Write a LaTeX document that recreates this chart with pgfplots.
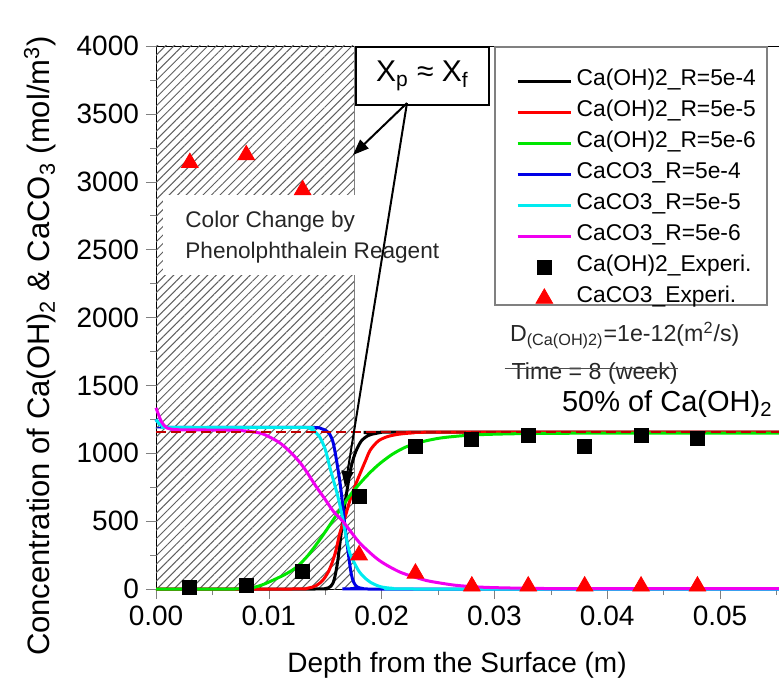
\documentclass[border=0pt]{standalone}
\usepackage{fontspec}
\setmainfont{Liberation Sans}
\usepackage{pgfplots}
\pgfplotsset{compat=1.18}
\usetikzlibrary{patterns.meta,arrows.meta}

\definecolor{dred}{RGB}{192,0,0}
\definecolor{hgray}{RGB}{95,95,95}
\definecolor{lgreen}{RGB}{0,230,0}
\definecolor{cblue}{RGB}{0,0,230}
\definecolor{ccyan}{RGB}{0,235,240}
\definecolor{cmag}{RGB}{240,0,240}
\definecolor{cred}{RGB}{255,0,0}

\pgfplotsset{
  marklegend/.style={legend image code/.code={%
    \draw[mark repeat=2,mark phase=2,##1] plot coordinates {(0pt,0pt) (13.3pt,0pt) (26.6pt,0pt)};}},
}

\begin{document}
\begin{tikzpicture}
\useasboundingbox (-78pt,-53pt) rectangle (311.5pt,294.5pt);
\begin{axis}[
    at={(0pt,0pt)}, anchor=south west,
    scale only axis, width=315.84pt, height=271.5pt,
    xmin=0, xmax=0.056, ymin=0, ymax=4000,
    clip=false,
    xtick={0,0.01,0.02,0.03,0.04,0.05},
    minor xtick={0.005,0.015,0.025,0.035,0.045,0.055},
    ytick={0,500,1000,1500,2000,2500,3000,3500,4000},
    minor ytick={250,750,1250,1750,2250,2750,3250,3750},
    tick align=outside, xtick pos=bottom, ytick pos=left,
    major tick length=5pt, minor tick length=3pt,
    scaled x ticks=false,
    xticklabel style={/pgf/number format/.cd, fixed, fixed zerofill, precision=2},
    yticklabel style={/pgf/number format/.cd, 1000 sep={}},
    /pgf/number format/assume math mode=true,
    tick label style={font=\fontsize{14}{16}\selectfont},
    xlabel={Depth from the Surface (m)},
    ylabel={Concentration of Ca(OH)\textsubscript{2} \& CaCO\textsubscript{3} (mol/m\textsuperscript{3})},
    xlabel style={at={(axis description cs:0.4765,-0.14)}, anchor=center, font=\fontsize{14}{16}\selectfont},
    ylabel style={at={(axis description cs:-0.1836,0.4475)}, anchor=center, font=\fontsize{15.5}{18}\selectfont},
    legend image code/.code={\draw[#1] (0pt,0pt) -- (26.7pt,0pt);},
    legend style={at={(axis cs:0.0319,3856)}, anchor=north west, draw=none, fill=none,
        inner sep=0pt, font=\fontsize{11.4}{13}\selectfont,
        nodes={inner ysep=0pt, text height=10pt, text depth=5.5pt}},
    legend cell align=left,
]

% hatched zone
\fill[pattern={Lines[angle=45,distance=3pt,line width=0.5pt]}, pattern color=hgray]
    (axis cs:0,0) rectangle (axis cs:0.0176,4000);
\draw[gray, line width=0.5pt] (axis cs:0.0176,0) -- (axis cs:0.0176,4000);

% Ca(OH)2
\addplot[black, line width=1.5pt, smooth] coordinates {
(0,0) (0.014,0) (0.0150,3) (0.0155,20) (0.0158,70) (0.0161,200) (0.0164,400)
(0.0167,600) (0.0170,760) (0.0173,900) (0.0177,1010) (0.0182,1090) (0.0188,1130)
(0.0196,1148) (0.021,1155) (0.056,1155)};
\addlegendentry{Ca(OH)2\_R=5e-4}

\addplot[cred, line width=1.5pt, smooth] coordinates {
(0,0) (0.012,0) (0.0134,5) (0.0142,25) (0.0148,66) (0.0153,130) (0.0157,214)
(0.0160,300) (0.0163,412) (0.0168,540) (0.0172,655) (0.0177,770) (0.0181,852)
(0.0186,950) (0.0190,1024) (0.0197,1090) (0.0205,1122) (0.0215,1140) (0.0228,1150)
(0.025,1155) (0.056,1155)};
\addlegendentry{Ca(OH)2\_R=5e-5}

\addplot[lgreen, line width=1.5pt, smooth] coordinates {
(0,0) (0.007,0) (0.0083,5) (0.0094,30) (0.0104,66) (0.0115,110) (0.0125,164)
(0.0135,250) (0.0145,361) (0.0154,470) (0.0163,582) (0.0172,690) (0.0181,780)
(0.0190,860) (0.0199,928) (0.0210,995) (0.0222,1048) (0.0236,1085) (0.0252,1112)
(0.0270,1128) (0.0287,1137) (0.032,1144) (0.036,1147) (0.040,1148) (0.056,1148)};
\addlegendentry{Ca(OH)2\_R=5e-6}

% CaCO3
\addplot[cblue, line width=1.5pt, smooth] coordinates {
(0,1250) (0.0003,1215) (0.0008,1195) (0.0015,1190) (0.010,1190) (0.0140,1190)
(0.0147,1180) (0.0151,1165) (0.0154,1140) (0.0157,1080) (0.0160,950) (0.0163,790)
(0.0165,656) (0.0167,500) (0.0169,361) (0.0171,230) (0.0173,115) (0.0175,55)
(0.0178,17) (0.0183,4) (0.019,0) (0.056,0)};
\addlegendentry{CaCO3\_R=5e-4}

\addplot[ccyan, line width=1.5pt, smooth] coordinates {
(0,1250) (0.0003,1215) (0.0008,1195) (0.0015,1190) (0.0130,1190) (0.0137,1180)
(0.0142,1150) (0.0145,1122) (0.0150,1030) (0.0154,900) (0.0158,780) (0.0162,656)
(0.0166,500) (0.0169,361) (0.0172,260) (0.0176,189) (0.0180,130) (0.0184,91)
(0.0190,50) (0.0199,17) (0.0210,5) (0.023,0) (0.056,0)};
\addlegendentry{CaCO3\_R=5e-5}

\addplot[cmag, line width=1.5pt, smooth] coordinates {
(0,1335) (0.0002,1290) (0.0005,1230) (0.001,1185) (0.002,1173) (0.005,1171)
(0.0074,1168) (0.0092,1149) (0.0101,1118) (0.0110,1075) (0.0119,1010) (0.0128,928)
(0.0135,845) (0.0142,754) (0.0150,660) (0.0157,575) (0.0166,495) (0.0172,430)
(0.0180,345) (0.0190,265) (0.0198,210) (0.0207,164) (0.0217,122) (0.0228,91)
(0.0240,62) (0.0252,44) (0.0265,28) (0.0281,17) (0.030,10) (0.034,4) (0.040,2) (0.056,2)};
\addlegendentry{CaCO3\_R=5e-6}

% experiments
\addplot[only marks, mark=square*, mark size=3.5pt, black, marklegend]
coordinates {
(0.003,15) (0.008,29) (0.013,127) (0.018,680) (0.023,1048) (0.028,1103)
(0.033,1134) (0.038,1048) (0.043,1134) (0.048,1112)};
\addlegendentry{Ca(OH)2\_Experi.}

\addplot[only marks, mark=triangle*, mark size=4.8pt, cred, marklegend]
coordinates {
(0.003,3140) (0.008,3197) (0.013,2939) (0.018,250) (0.023,115) (0.028,20)
(0.033,20) (0.038,20) (0.043,20) (0.048,20)};
\addlegendentry{CaCO3\_Experi.}

% 50% level
\addplot[dred, line width=1.2pt, dash pattern=on 5pt off 2.5pt, forget plot]
coordinates {(0,1155) (0.056,1155)};

% label box in the hatched zone
\fill[white] (axis cs:0.00062,2313) rectangle (axis cs:0.0176,2902);
\node[anchor=base west, align=left, inner sep=0pt, text=black!85,
      font=\fontsize{11.3}{15.3}\selectfont] at (axis cs:0.00257,2436)
      {Color Change by\\Phenolphthalein Reagent};

% Xp ~ Xf callout
\draw[fill=white, line width=0.8pt] (axis cs:0.01773,3565) rectangle (axis cs:0.02952,3993);
\node[font=\fontsize{15}{18}\selectfont] at (axis cs:0.02362,3779)
      {X\textsubscript{p} ≈ X\textsubscript{f}};
\draw[-{Triangle[length=8pt,width=6pt]}, line width=1pt]
      (axis cs:0.02225,3580) -- (axis cs:0.01746,3197);
\draw[-{Triangle[length=8pt,width=6pt]}, line width=1pt]
      (axis cs:0.02225,3580) -- (axis cs:0.01676,751);

% legend frame
\draw[gray, line width=0.8pt] (axis cs:0.03005,2092) rectangle (axis cs:0.05417,3993);

% notes
\node[anchor=base west, text=black!85, font=\fontsize{11.6}{14}\selectfont]
      at (axis cs:0.03076,1820) {D\textsubscript{(Ca(OH)2)}=1e-12(m\textsuperscript{2}/s)};
\node[anchor=base west, text=black!85, font=\fontsize{11.6}{14}\selectfont]
      at (axis cs:0.0309,1540) {Time = 8 (week)};
\draw[black!70, line width=0.6pt] (axis cs:0.0309,1625) -- (axis cs:0.0463,1625);
\node[anchor=base west, font=\fontsize{14.5}{17}\selectfont]
      at (axis cs:0.03537,1306) {50\% of Ca(OH)\textsubscript{2}};

\end{axis}
\end{tikzpicture}
\end{document}
